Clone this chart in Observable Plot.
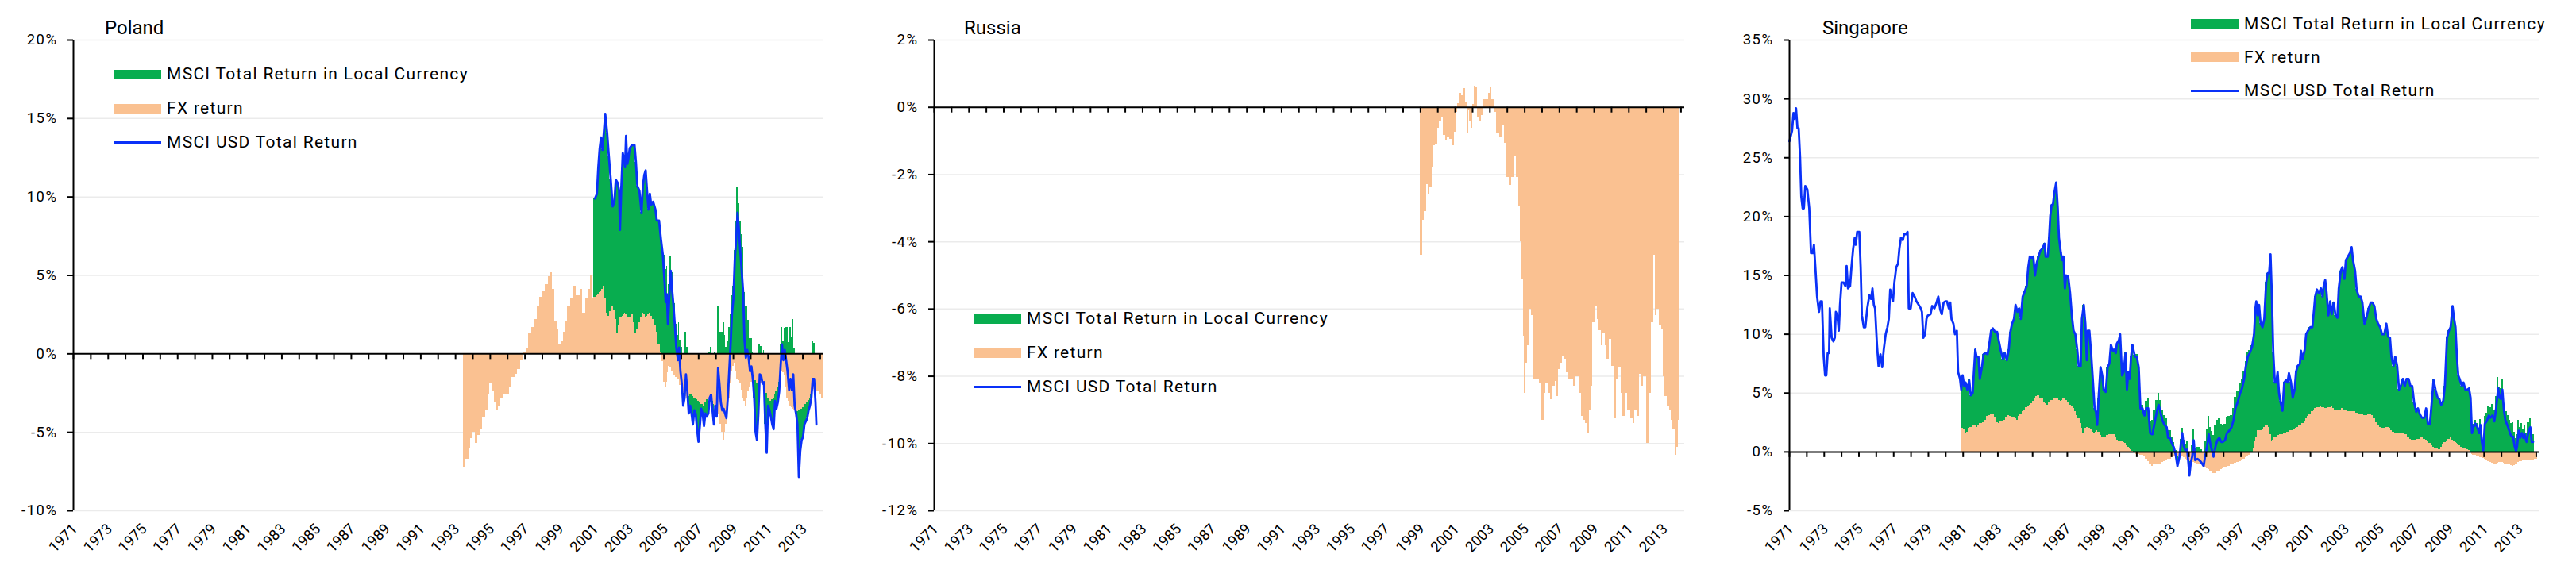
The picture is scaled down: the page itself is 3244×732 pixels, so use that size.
<!DOCTYPE html>
<html><head><meta charset="utf-8">
<script src="https://cdn.jsdelivr.net/npm/d3@7"></script>
<script src="https://cdn.jsdelivr.net/npm/@observablehq/plot@0.6"></script>
<style>
body{margin:0;background:#fff;}
#wrap{position:relative;width:3244px;height:732px;overflow:hidden;font-family:Roboto,"Liberation Sans",sans-serif;color:#000;}
.panel{position:absolute;top:0;height:732px;}
.title{position:absolute;top:23px;font-size:24px;line-height:1;white-space:nowrap;}
.legend{position:absolute;font-size:21px;letter-spacing:1.3px;}
.legend .row{display:flex;align-items:center;white-space:nowrap;}
.legend .row span{line-height:1;}
.sw{width:60px;height:12px;margin-right:7px;flex:none;}
.ln{width:60px;height:3px;margin-right:7px;flex:none;}
g[aria-label="y-axis tick label"] text{letter-spacing:1.5px;}
g[aria-label="year-label"] text{letter-spacing:0.5px;}
</style></head><body><div id="wrap"></div>
<script>
// ---------------- DATA (decimal years, values in %) ----------------
const FX = "FX return", LOCAL = "MSCI Total Return in Local Currency", USD = "MSCI USD Total Return";

// Poland
const plEarlyYears = [1993.52,1993.68,1993.84,1993.92,1994.00,1994.25,1994.33,1994.49,1994.65,1994.81,1994.89,1995.05,1995.21,1995.29,1995.37,1995.53,1995.69,1995.85,1996.01,1996.17,1996.33,1996.49,1996.65,1996.81,1997.02,1997.13,1997.29,1997.45,1997.61,1997.77,1997.93,1998.09,1998.25,1998.41,1998.53,1998.65,1998.78,1998.90,1999.01,1999.14,1999.26,1999.38,1999.54,1999.70,1999.86,2000.02,2000.18,2000.26,2000.39,2000.58,2000.71,2000.82,2000.90];
const plEarlyFX = [-7.2,-6.7,-6.0,-5.4,-5.0,-5.7,-5.2,-4.8,-4.1,-3.6,-2.6,-1.9,-2.4,-3.1,-3.6,-3.3,-2.8,-2.6,-2.6,-2.1,-1.5,-1.3,-1.0,-0.4,0.05,0.3,1.3,1.7,2.2,3.0,3.6,4.0,4.4,4.9,5.2,4.1,2.1,1.6,0.6,0.8,1.4,2.1,3.0,3.5,4.3,3.7,3.7,4.1,2.6,3.5,4.1,5.0,3.5];
const plYears = [2001.03,2001.14,2001.22,2001.30,2001.38,2001.46,2001.54,2001.62,2001.73,2001.83,
2001.94,2002.05,2002.15,2002.23,2002.34,2002.42,2002.47,2002.55,2002.63,2002.70,
2002.76,2002.82,2002.89,2002.95,2003.03,2003.15,2003.31,2003.39,2003.47,2003.59,
2003.71,2003.79,2003.87,2003.95,2004.03,2004.11,2004.19,2004.27,2004.38,2004.51,
2004.59,2004.72,2004.83,2004.94,2005.04,2005.10,2005.17,2005.23,2005.31,2005.39,
2005.47,2005.55,2005.63,2005.71,2005.81,2005.87,2005.95,2006.03,2006.11,2006.19,
2006.27,2006.35,2006.43,2006.51,2006.59,2006.67,2006.75,2006.83,2006.91,2006.99,
2007.07,2007.15,2007.23,2007.31,2007.39,2007.47,2007.56,2007.64,2007.72,2007.80,
2007.88,2007.96,2008.04,2008.12,2008.20,2008.28,2008.36,2008.44,2008.52,2008.60,
2008.68,2008.76,2008.84,2008.92,2009.00,2009.08,2009.16,2009.24,2009.32,2009.40,
2009.48,2009.56,2009.64,2009.72,2009.80,2009.88,2009.96,2010.04,2010.12,2010.20,
2010.28,2010.36,2010.44,2010.52,2010.60,2010.68,2010.76,2010.84,2010.92,2011.00,
2011.08,2011.16,2011.24,2011.32,2011.40,2011.48,2011.56,2011.64,2011.72,2011.80,
2011.88,2011.96,2012.04,2012.12,2012.21,2012.29,2012.37,2012.45,2012.53,2012.61,
2012.69,2012.77,2012.85,2012.93,2013.01,2013.09,2013.17,2013.25,2013.33,2013.41,
2013.49,2013.57,2013.65,2013.73,2013.78,2013.86,2014.02,2014.13];
const plFX = [3.6,3.7,3.8,3.9,4.0,4.1,4.3,3.5,2.6,2.4,
2.7,3.0,2.8,2.2,1.3,1.8,2.3,2.3,2.4,2.5,
2.6,2.5,2.4,2.3,2.3,2.5,2.0,1.3,1.6,2.0,
2.3,2.6,2.5,2.3,2.4,2.5,2.6,2.4,2.2,1.8,
1.4,0.6,0.1,-0.5,-1.8,-2.1,-1.8,-1.2,-0.8,-0.9,
-1.1,-1.3,-1.4,-1.5,-1.6,-1.6,-2.0,-2.3,-2.5,-2.6,
-2.7,-2.8,-2.7,-2.6,-2.6,-2.7,-2.8,-2.8,-2.9,-3.0,
-3.1,-3.2,-3.2,-3.3,-3.1,-2.9,-2.8,-2.9,-3.0,-3.0,
-3.2,-3.4,-3.6,-3.9,-4.2,-4.5,-5.0,-5.5,-5.0,-4.5,
-3.6,-2.8,-1.9,-1.1,-0.8,-0.6,-1.1,-1.6,-1.7,-1.9,
-2.3,-2.8,-3.0,-3.3,-2.8,-2.4,-2.1,-1.8,-1.7,-1.6,
-1.7,-1.9,-1.9,-1.9,-1.85,-1.8,-2.0,-2.3,-2.5,-2.8,
-2.9,-3.0,-2.9,-2.8,-2.6,-2.4,-2.1,-1.8,-1.4,-1.1,
-1.2,-1.4,-2.1,-2.8,-3.0,-3.3,-3.4,-3.5,-3.6,-3.8,
-3.7,-3.6,-3.55,-3.5,-3.4,-3.3,-3.2,-3.1,-2.95,-2.8,
-2.6,-2.4,-2.25,-2.1,-2.2,-2.4,-2.6,-2.8];
const plLocal = [6.3,6.5,8.1,9.2,9.8,8.9,9.8,11.8,11.5,10.2,
8.4,6.4,6.9,8.9,9.6,8.6,5.6,8.4,10.4,9.9,
9.3,11.4,9.7,10.1,10.8,10.8,11.3,10.9,9.1,8.4,
6.7,8.1,8.9,9.4,8.0,6.7,7.6,7.1,7.5,7.4,
7.1,7.9,7.2,6.8,6.3,5.4,5.6,3.1,4.4,6.2,
5.2,4.4,3.2,1.9,1.2,2.0,0.9,0.4,-0.8,-0.2,
1.4,0.4,-1.1,-0.7,-1.2,-1.8,-0.8,-1.0,-1.9,-2.6,
-1.5,-0.3,-0.6,-1.3,-0.7,-1.1,-1.0,0.1,0.4,-0.6,
-1.3,0.1,-0.4,3.0,2.3,1.4,1.4,2.0,1.2,0.4,
0.8,1.7,2.5,3.7,4.3,6.6,8.4,10.6,9.6,8.4,
7.6,6.8,3.9,3.05,3.05,2.15,1.0,1.0,0.1,-1.2,
-3.3,-3.6,-1.9,0.6,0.45,-0.1,0.2,-2.2,-3.8,-0.5,
-0.7,-1.0,-1.6,-2.0,-0.4,-1.1,-1.0,-0.6,0.6,1.7,
0.8,1.65,1.7,1.7,0.7,1.7,1.1,2.2,0.3,0.0,
-0.8,-4.25,-2.65,-2.0,-1.9,-1.2,-1.1,-1.0,-0.65,-0.5,
-0.2,0.8,0.65,-1.0,-2.3,null,null,null];
const plUSD = [9.9,10.2,11.9,13.1,13.8,13.0,14.1,15.3,14.1,12.6,
11.1,9.4,9.7,11.1,10.9,10.4,7.9,10.7,12.8,12.4,
11.9,13.9,12.1,12.4,13.1,13.3,13.3,12.2,10.7,10.4,
9.0,10.7,11.4,11.7,10.4,9.2,10.2,9.5,9.7,9.2,
8.5,8.5,7.3,6.3,4.5,3.3,3.8,1.9,3.6,5.3,
4.1,3.1,1.8,0.4,-0.4,0.4,-1.1,-1.9,-3.3,-2.8,
-1.3,-2.4,-3.8,-3.3,-3.8,-4.5,-3.6,-3.8,-4.8,-5.6,
-4.6,-3.5,-3.8,-4.6,-3.8,-4.0,-3.8,-2.8,-2.6,-3.6,
-4.5,-3.3,-4.0,-0.9,-1.9,-3.1,-3.6,-3.5,-3.8,-4.1,
-2.8,-1.1,0.6,2.6,3.5,6.0,7.3,9.0,7.9,6.5,
5.3,4.0,0.9,-0.25,0.25,-0.25,-1.1,-0.8,-1.6,-2.8,
-5.0,-5.5,-3.8,-1.3,-1.4,-1.9,-1.8,-4.5,-6.3,-3.3,
-3.6,-4.0,-4.5,-4.8,-3.0,-3.5,-3.1,-2.4,-0.8,0.6,
-0.4,0.25,-0.4,-1.1,-2.3,-1.6,-2.3,-1.3,-3.3,-3.8,
-4.5,-7.85,-6.2,-5.5,-5.3,-4.5,-4.3,-4.1,-3.6,-3.3,
-2.8,-1.6,-1.6,-3.1,-4.5,null,null,null];

// Russia
const ruYears = [1999.05,1999.20,1999.27,1999.40,1999.50,1999.61,1999.70,1999.81,1999.91,2000.04,
2000.16,2000.27,2000.37,2000.49,2000.62,2000.72,2000.88,2000.98,2001.07,2001.18,
2001.29,2001.41,2001.53,2001.64,2001.71,2001.79,2001.87,2001.94,2002.02,2002.13,
2002.25,2002.32,2002.43,2002.55,2002.70,2002.86,2002.96,2003.05,2003.16,2003.31,
2003.47,2003.62,2003.77,2003.92,2004.03,2004.15,2004.30,2004.46,2004.58,2004.69,
2004.79,2004.88,2004.95,2005.04,2005.10,2005.22,2005.30,2005.45,2005.60,2005.75,
2005.91,2006.06,2006.16,2006.29,2006.41,2006.53,2006.67,2006.82,2006.90,2007.02,
2007.13,2007.23,2007.35,2007.48,2007.58,2007.73,2007.89,2008.04,2008.19,2008.30,
2008.42,2008.54,2008.65,2008.76,2008.88,2008.97,2009.11,2009.21,2009.34,2009.46,
2009.56,2009.67,2009.79,2009.95,2010.10,2010.22,2010.33,2010.48,2010.59,2010.71,
2010.86,2011.01,2011.16,2011.29,2011.39,2011.55,2011.65,2011.77,2011.93,2012.08,
2012.20,2012.35,2012.46,2012.57,2012.69,2012.81,2012.92,2012.99,2013.12,2013.27,
2013.37,2013.48,2013.60,2013.68,2013.79,2013.86];
const ruFX = [-4.4,-3.35,-3.1,-2.3,-2.6,-2.4,-1.8,-1.15,-1.1,-0.63,
-0.4,-0.3,-0.83,-1.0,-0.9,-0.95,-1.15,-0.75,-0.15,0.12,
0.43,0.35,0.55,0.16,-0.79,-0.1,-0.43,-0.63,0.08,0.63,
0.6,-0.3,-0.43,-0.24,0.24,0.24,0.43,0.6,0.24,-0.16,
-0.79,-0.87,-0.55,-1.06,-2.09,-2.32,-2.09,-1.46,-2.09,-2.95,
-4.0,-5.1,-6.8,-8.5,-7.6,-7.1,-6.0,-6.2,-8.1,-8.1,
-8.2,-9.3,-8.5,-8.2,-8.5,-8.7,-8.3,-8.15,-8.6,-7.8,
-7.6,-7.4,-7.5,-7.9,-8.1,-8.1,-8.3,-8.0,-8.5,-9.2,
-9.3,-9.4,-9.7,-9.0,-8.3,-6.4,-5.9,-6.3,-6.65,-7.1,
-6.7,-7.1,-7.5,-6.9,-7.7,-9.25,-8.1,-7.75,-8.5,-9.2,
-8.5,-9.0,-9.25,-9.4,-9.0,-9.2,-7.95,-8.3,-8.0,-10.0,
-8.5,-6.4,-4.4,-6.2,-6.0,-6.5,-6.6,-8.0,-8.6,-8.9,
-9.0,-9.3,-9.6,-10.35,-10.1,-9.3];

// Singapore
const sgEarlyYears = [1971.00,1971.15,1971.23,1971.30,1971.38,1971.46,1971.53,1971.61,1971.68,1971.76,
1971.83,1971.91,1972.03,1972.14,1972.24,1972.34,1972.41,1972.49,1972.59,1972.70,
1972.79,1972.87,1972.97,1973.05,1973.12,1973.20,1973.28,1973.32,1973.43,1973.53,
1973.61,1973.67,1973.76,1973.84,1973.91,1974.00,1974.11,1974.22,1974.29,1974.37,
1974.49,1974.57,1974.67,1974.76,1974.82,1974.90,1975.02,1975.10,1975.17,1975.28,
1975.37,1975.48,1975.60,1975.70,1975.78,1975.86,1975.93,1976.04,1976.13,1976.24,
1976.34,1976.43,1976.54,1976.64,1976.72,1976.80,1976.87,1976.96,1977.04,1977.15,
1977.25,1977.33,1977.42,1977.53,1977.60,1977.71,1977.80,1977.87,1977.98,1978.09,
1978.21,1978.31,1978.44,1978.56,1978.63,1978.71,1978.81,1978.89,1978.97,1979.12,
1979.22,1979.35,1979.47,1979.57,1979.68,1979.77,1979.88,1979.98,1980.07,1980.18,
1980.26,1980.33,1980.44,1980.53,1980.64,1980.71,1980.82,1980.89];
const sgEarlyUSD = [26.4,27.3,28.8,28.3,29.2,27.5,27.5,25.1,21.7,20.7,
20.7,22.6,22.3,20.7,16.9,16.9,17.6,15.7,13.2,11.9,
12.8,12.8,8.1,6.5,6.5,8.4,8.4,12.2,9.7,9.4,
9.7,11.9,11.6,10.3,12.5,14.4,14.4,14.1,15.8,13.9,
14.1,15.7,17.3,18.2,17.6,18.7,18.7,15.7,11.6,10.6,
10.6,12.2,13.3,13.0,13.9,12.5,12.2,9.1,7.3,8.3,
7.2,8.7,10.0,10.6,11.3,13.8,13.3,12.8,14.4,15.7,
16.0,17.3,18.2,18.0,18.5,18.5,18.7,12.2,12.2,13.5,
13.2,12.8,12.5,12.2,11.9,9.7,10.0,11.3,11.6,11.7,
12.4,12.2,12.7,13.2,12.1,11.7,12.7,12.8,12.8,12.2,
12.7,11.3,10.9,10.0,10.3,6.8,6.2,5.3];
const sgYears = [1980.97,1981.06,1981.14,1981.24,1981.35,1981.44,1981.55,1981.62,1981.70,1981.77,
1981.88,1981.96,1982.08,1982.18,1982.31,1982.41,1982.50,1982.61,1982.71,1982.84,
1982.96,1983.06,1983.17,1983.29,1983.40,1983.52,1983.63,1983.72,1983.82,1983.93,
1984.02,1984.13,1984.23,1984.32,1984.43,1984.54,1984.66,1984.75,1984.84,1984.93,
1985.04,1985.14,1985.23,1985.34,1985.45,1985.57,1985.69,1985.75,1985.87,1985.95,
1986.02,1986.10,1986.17,1986.25,1986.36,1986.45,1986.52,1986.63,1986.71,1986.78,
1986.86,1986.93,1987.05,1987.16,1987.26,1987.36,1987.46,1987.57,1987.66,1987.77,
1987.84,1987.95,1988.04,1988.12,1988.18,1988.27,1988.37,1988.48,1988.57,1988.65,
1988.72,1988.80,1988.91,1989.01,1989.09,1989.21,1989.32,1989.42,1989.51,1989.62,
1989.69,1989.79,1989.85,1989.97,1990.04,1990.15,1990.24,1990.35,1990.43,1990.51,
1990.59,1990.67,1990.75,1990.89,1991.00,1991.11,1991.21,1991.33,1991.44,1991.54,
1991.66,1991.77,1991.90,1992.02,1992.15,1992.26,1992.36,1992.47,1992.59,1992.72,
1992.80,1992.92,1993.02,1993.13,1993.24,1993.34,1993.46,1993.54,1993.62,1993.70,
1993.82,1993.90,1993.97,1994.03,1994.11,1994.19,1994.28,1994.36,1994.49,1994.60,
1994.72,1994.85,1994.93,1995.05,1995.14,1995.26,1995.34,1995.42,1995.54,1995.64,
1995.75,1995.87,1995.96,1996.08,1996.19,1996.32,1996.46,1996.57,1996.68,1996.82,
1996.95,1997.06,1997.18,1997.27,1997.39,1997.50,1997.63,1997.75,1997.83,1997.88,
1997.96,1998.04,1998.13,1998.24,1998.34,1998.45,1998.54,1998.62,1998.70,1998.78,
1998.86,1998.95,1999.03,1999.11,1999.19,1999.27,1999.39,1999.49,1999.60,1999.68,
1999.76,1999.88,1999.98,2000.09,2000.17,2000.26,2000.39,2000.45,2000.55,2000.67,
2000.75,2000.86,2000.99,2001.11,2001.21,2001.27,2001.37,2001.48,2001.60,2001.70,
2001.76,2001.85,2001.93,2002.03,2002.14,2002.22,2002.34,2002.44,2002.55,2002.63,
2002.75,2002.84,2002.96,2003.04,2003.16,2003.27,2003.37,2003.45,2003.57,2003.66,
2003.78,2003.89,2003.99,2004.11,2004.22,2004.35,2004.47,2004.57,2004.68,2004.79,
2004.89,2005.01,2005.12,2005.25,2005.37,2005.47,2005.58,2005.66,2005.78,2005.88,
2005.99,2006.10,2006.20,2006.32,2006.43,2006.53,2006.65,2006.76,2006.86,2006.97,
2007.09,2007.19,2007.30,2007.42,2007.55,2007.66,2007.76,2007.88,2007.99,2008.09,
2008.20,2008.32,2008.42,2008.53,2008.64,2008.74,2008.86,2008.97,2009.07,2009.18,
2009.27,2009.35,2009.43,2009.51,2009.59,2009.71,2009.81,2009.92,2010.04,2010.13,
2010.22,2010.30,2010.38,2010.49,2010.61,2010.71,2010.79,2010.87,2010.95,2011.04,
2011.15,2011.27,2011.36,2011.48,2011.59,2011.69,2011.81,2011.89,2011.97,2012.05,
2012.13,2012.22,2012.30,2012.38,2012.49,2012.58,2012.67,2012.75,2012.84,2012.90,
2012.99,2013.08,2013.17,2013.25,2013.33,2013.44,2013.56,2013.66,2013.74,2013.82,
2013.92,2014.02];
const sgUSD = [6.5,5.6,5.9,5.3,6.1,4.8,5.0,6.8,8.7,8.1,
8.1,6.2,7.2,8.3,8.4,8.3,9.1,10.3,10.5,10.2,
10.2,9.4,8.6,7.9,8.4,7.8,8.7,10.2,10.9,11.3,
12.5,11.9,12.2,11.3,13.2,13.6,14.1,15.7,16.6,16.5,
16.6,15.0,16.0,16.6,17.1,17.3,17.7,16.6,16.6,18.2,
20.1,21.0,21.0,22.0,22.9,20.7,18.2,16.9,16.3,16.6,
13.9,15.0,14.9,13.5,11.6,10.3,10.0,8.7,7.3,7.3,
11.3,12.5,10.9,7.8,10.3,10.3,8.4,5.9,3.7,3.4,
2.3,4.6,7.2,6.5,5.3,5.1,7.2,7.5,9.1,8.6,
8.7,8.4,9.2,9.5,10.0,6.5,6.8,8.4,5.3,6.8,
6.2,8.1,9.1,8.1,8.1,7.2,3.7,3.7,3.1,3.7,
3.7,1.6,1.5,2.4,3.4,4.0,3.4,2.7,2.3,2.1,
1.2,1.2,0.7,0.4,-0.25,-1.2,-0.4,0.7,1.6,0.5,
0.06,0.2,-0.9,-2.0,-0.9,-0.4,1.0,-0.7,-0.6,-0.7,
-0.9,-1.2,-0.4,0.5,1.5,0.5,0.06,-0.4,0.5,1.0,
1.2,0.85,0.85,1.0,1.6,1.8,2.1,2.7,3.7,4.3,
5.0,5.4,6.2,7.2,8.1,8.4,8.9,10.0,12.2,12.8,
11.6,12.5,10.9,10.6,11.3,14.4,15.2,15.2,16.8,13.2,
8.4,5.9,5.9,6.8,5.0,4.3,3.5,5.9,6.1,5.9,
6.7,5.9,4.6,5.3,6.8,7.3,7.5,8.6,7.9,8.7,
10.0,10.3,10.6,10.6,12.2,13.2,13.8,13.5,13.9,13.2,
14.1,14.6,13.5,11.6,12.8,11.7,12.7,11.6,11.4,13.9,
15.4,15.7,14.7,16.3,16.6,16.9,17.4,16.3,15.4,13.8,
13.2,13.2,12.7,10.9,11.4,12.2,12.7,12.7,12.4,11.3,
10.9,10.6,10.0,10.0,10.9,9.8,9.7,8.1,7.3,8.1,
7.3,5.3,5.6,6.2,5.6,6.2,6.2,5.6,5.6,4.2,
3.4,3.7,3.2,2.9,2.9,3.7,2.4,2.4,4.3,6.1,
5.3,4.6,4.5,4.0,4.3,5.6,9.7,10.3,10.6,12.4,
11.3,10.6,8.1,6.5,6.2,5.6,5.9,5.3,5.3,5.4,
4.6,1.6,2.1,2.4,2.1,1.6,2.3,0.85,0.06,2.4,
2.6,3.1,2.9,3.1,2.6,3.7,5.4,4.6,4.5,5.3,
3.7,2.7,2.4,2.1,1.6,1.3,1.3,0.5,0.06,0.5,
1.8,1.2,1.6,1.2,1.5,0.85,1.8,2.1,0.85,0.85,
null,null];
const sgFX = [2.0,1.9,1.6,1.7,2.0,2.1,2.3,2.2,2.2,2.1,
2.2,2.4,2.4,2.5,2.7,3.0,3.1,3.2,3.2,2.9,
2.5,2.4,2.6,2.6,2.7,2.9,3.1,3.0,2.9,2.9,
2.8,2.7,3.0,3.2,3.4,3.6,3.8,3.9,4.0,4.1,
4.3,4.6,4.7,4.8,4.6,4.5,4.2,4.1,4.0,4.2,
4.3,4.4,4.4,4.5,4.6,4.5,4.4,4.3,4.4,4.5,
4.5,4.4,4.2,4.0,3.9,3.7,3.4,3.1,2.8,2.4,
2.0,1.6,2.0,2.1,2.1,2.0,1.9,1.7,1.6,1.7,
1.8,1.7,1.4,1.3,1.3,1.3,1.4,1.5,1.5,1.5,
1.5,1.2,1.0,0.85,0.85,0.85,0.8,0.7,0.5,0.4,
0.3,0.2,0.06,-0.1,-0.2,-0.2,-0.25,-0.3,-0.4,-0.6,
-0.8,-1.0,-1.2,-1.1,-1.0,-1.0,-1.0,-0.9,-0.8,-0.7,
-0.6,-0.6,-0.5,-0.4,-0.4,-0.4,-0.35,-0.35,-0.4,-0.5,
-0.6,-0.7,-0.7,-0.8,-0.85,-0.9,-0.9,-0.95,-1.0,-1.1,
-1.1,-1.2,-1.3,-1.4,-1.5,-1.6,-1.7,-1.8,-1.8,-1.7,
-1.6,-1.5,-1.4,-1.35,-1.3,-1.2,-1.0,-1.0,-0.95,-0.9,
-0.8,-0.7,-0.6,-0.5,-0.35,-0.25,-0.1,0.3,0.9,1.2,
1.8,1.8,1.8,1.9,2.1,2.3,2.2,2.1,1.5,0.85,
1.0,1.2,1.3,1.4,1.4,1.5,1.5,1.55,1.6,1.65,
1.7,1.8,1.8,1.9,2.0,2.1,2.2,2.3,2.4,2.6,
2.8,3.0,3.2,3.4,3.6,3.7,3.8,3.8,3.85,3.8,
3.75,3.7,3.7,3.75,3.8,3.85,3.7,3.6,3.5,3.55,
3.6,3.7,3.6,3.5,3.4,3.4,3.4,3.4,3.4,3.3,
3.25,3.2,3.15,3.1,3.1,3.15,3.2,3.1,2.8,2.5,
2.3,2.1,2.0,2.0,2.05,2.1,2.0,1.8,1.7,1.6,
1.6,1.6,1.6,1.55,1.5,1.45,1.3,1.1,1.0,1.0,
1.0,1.05,1.1,1.2,1.1,1.0,0.85,0.7,0.5,0.4,
0.35,0.3,0.2,0.4,0.6,0.8,0.95,1.1,1.2,1.0,
0.9,0.8,0.7,0.6,0.5,0.4,0.35,0.3,0.2,0.1,
0.0,-0.2,-0.25,-0.3,-0.35,-0.4,-0.45,-0.5,-0.55,-0.6,
-0.7,-0.8,-0.9,-0.95,-1.0,-1.0,-0.95,-0.9,-0.9,-0.9,
-0.95,-1.0,-1.0,-1.0,-1.1,-1.15,-1.2,-1.15,-1.1,-1.0,
-0.9,-0.85,-0.8,-0.75,-0.7,-0.7,-0.7,-0.7,-0.7,-0.65,
-0.6,-0.6];
const sgLocal = [4.5,3.7,4.3,3.6,4.1,2.7,2.7,4.6,6.5,6.0,
5.9,3.8,4.8,5.8,5.7,5.3,6.0,7.1,7.3,7.3,
7.7,7.0,6.0,5.3,5.7,4.9,5.6,7.2,8.0,8.4,
9.7,9.2,9.2,8.1,9.8,10.0,10.3,11.8,12.6,12.4,
12.3,10.4,11.3,11.8,12.5,12.8,13.5,12.5,12.6,14.0,
15.8,16.6,16.6,17.5,18.3,16.2,13.8,12.6,11.9,12.1,
9.4,10.6,10.7,9.5,7.7,6.6,6.6,5.6,4.5,4.9,
9.3,10.9,8.9,5.7,8.2,8.3,6.5,4.2,2.1,1.7,
0.5,2.9,5.8,5.2,4.0,3.8,5.8,6.0,7.6,7.1,
7.2,7.2,8.2,8.65,9.15,5.65,6.0,7.7,4.8,6.4,
5.9,7.9,9.0,8.2,8.3,7.4,3.95,4.0,3.5,4.3,
4.5,2.6,2.7,3.5,4.4,5.0,4.4,3.6,3.1,2.8,
1.8,1.8,1.2,0.8,0.15,-0.8,-0.05,1.05,2.0,1.0,
0.66,0.9,-0.2,-1.2,-0.05,0.5,1.9,0.25,0.4,0.4,
0.2,0.0,0.9,1.9,3.0,2.1,1.76,1.4,2.3,2.7,
2.8,2.35,2.25,2.35,2.9,3.0,3.1,3.7,4.65,5.2,
5.8,6.1,6.8,7.7,8.45,8.65,9.0,9.7,11.3,11.6,
9.8,10.7,9.1,8.7,9.2,12.1,13.0,13.1,15.3,12.35,
7.4,4.7,4.6,5.4,3.6,2.8,2.0,4.35,4.5,4.25,
5.0,4.1,2.8,3.4,4.8,5.2,5.3,6.3,5.5,6.1,
7.2,7.3,7.4,7.2,8.6,9.5,10.0,9.7,10.05,9.4,
10.35,10.9,9.8,7.85,9.0,7.85,9.0,8.0,7.9,10.35,
11.8,12.0,11.1,12.8,13.2,13.5,14.0,12.9,12.0,10.5,
9.95,10.0,9.55,7.8,8.3,9.05,9.5,9.6,9.6,8.8,
8.6,8.5,8.0,8.0,8.85,7.7,7.7,6.3,5.6,6.5,
5.7,3.7,4.0,4.65,4.1,4.75,4.9,4.5,4.6,3.2,
2.4,2.65,2.1,1.7,1.8,2.7,1.55,1.7,3.8,5.7,
4.95,4.3,4.3,3.6,3.7,4.8,8.75,9.2,9.4,11.4,
10.4,9.8,7.4,5.9,5.7,5.2,5.55,5.0,5.1,5.3,
4.6,1.8,2.35,2.7,2.45,2.0,2.75,1.35,0.61,3.0,
3.3,3.9,3.8,4.05,3.6,4.7,6.35,5.5,5.4,6.2,
4.65,3.7,3.4,3.1,2.7,2.45,2.5,1.65,1.16,1.5,
2.7,2.05,2.4,1.95,2.2,1.55,2.5,2.8,1.55,1.5,
null,null];

// axes
const plTicks = [-10,-5,0,5,10,15,20];
const ruTicks = [-12,-10,-8,-6,-4,-2,0,2];
const sgTicks = [-5,0,5,10,15,20,25,30,35];
const tickYears = d3.range(1971, 2015);
const labelYears = d3.range(1971, 2014, 2);

// ---------------- helpers ----------------
const ORANGE = "#FAC191", GREEN = "#08AD4F", BLUE = "#0A31F8";
const FONT = "Roboto, 'Liberation Sans', sans-serif";
function toDate(y) {
  const Y = Math.floor(y), s = Date.UTC(Y, 0, 1), e = Date.UTC(Y + 1, 0, 1);
  return new Date(s + (y - Y) * (e - s));
}
const X_DOMAIN = [toDate(1971), toDate(2014.21)];

function barRows(years, series) {
  const n = years.length, rows = [];
  series.forEach(s => { if (s.values.length !== n) console.warn("length mismatch", s.name, s.values.length, n); });
  for (let i = 0; i < n; ++i) {
    const y = years[i];
    const prev = i > 0 ? years[i - 1] : y - (years[1] - years[0]);
    const next = i < n - 1 ? years[i + 1] : y + (y - years[i - 1]);
    const t1 = toDate((prev + y) / 2), t2 = toDate((y + next) / 2);
    for (const s of series) {
      const v = s.values[i];
      if (v != null) rows.push({t1, t2, v, s: s.name});
    }
  }
  return rows;
}
function lineRows(years, values) {
  if (years.length !== values.length) console.warn("line length mismatch", years.length, values.length);
  return years.map((y, i) => ({t: toDate(y), v: values[i]})).filter(d => d.v != null);
}

function panel({left, width, marginLeft, marginRight, yDomain, yTicks, bars, line}) {
  const marks = [
    Plot.ruleY(yTicks, {stroke: "#ebebeb", strokeWidth: 1.5}),
    Plot.rectY(bars, {x1: "t1", x2: "t2", y: "v", fill: "s", order: [FX, LOCAL], shapeRendering: "crispEdges"}),
  ];
  if (line && line.length) marks.push(Plot.line(line, {x: "t", y: "v", stroke: BLUE, strokeWidth: 2.8}));
  marks.push(
    Plot.ruleY([0], {stroke: "black", strokeWidth: 2}),
    Plot.ruleX(tickYears.map(y => toDate(y)), {y1: 0, y2: 0, insetBottom: -7, stroke: "black", strokeWidth: 2}),
    Plot.ruleX([X_DOMAIN[0]], {stroke: "black", strokeWidth: 2}),
    Plot.axisY(yTicks, {tickSize: 7, tickPadding: 13, tickFormat: d => `${d}%`, fontSize: 18.5, strokeWidth: 2, label: null}),
    Plot.text(labelYears.map(y => toDate(y)), {x: d => d, y: yDomain[0], text: d => String(d.getUTCFullYear()),
      rotate: -45, textAnchor: "end", lineAnchor: "bottom", dx: 6, dy: 24, fontSize: 18.5, fill: "black", ariaLabel: "year-label"})
  );
  const svg = Plot.plot({
    width, height: 732, marginLeft, marginRight, marginTop: 50, marginBottom: 89,
    x: {type: "utc", domain: X_DOMAIN, axis: null},
    y: {domain: yDomain, axis: null, label: null},
    color: {domain: [FX, LOCAL], range: [ORANGE, GREEN]},
    style: {fontFamily: FONT, background: "transparent", color: "black", overflow: "visible"},
    marks
  });
  const div = document.createElement("div");
  div.className = "panel";
  div.style.left = left + "px";
  div.style.width = width + "px";
  div.appendChild(svg);
  return div;
}

function legend(left, top, rowH) {
  const el = document.createElement("div");
  el.className = "legend";
  el.style.left = left + "px"; el.style.top = top + "px";
  el.innerHTML = `
    <div class="row" style="height:${rowH}px"><div class="sw" style="background:${GREEN}"></div><span>${LOCAL}</span></div>
    <div class="row" style="height:${rowH}px"><div class="sw" style="background:${ORANGE}"></div><span>${FX}</span></div>
    <div class="row" style="height:${rowH}px"><div class="ln" style="background:${BLUE}"></div><span>${USD}</span></div>`;
  return el;
}
function title(text, left) {
  const el = document.createElement("div");
  el.className = "title"; el.style.left = left + "px"; el.textContent = text;
  return el;
}

// ---------------- build ----------------
const wrap = document.getElementById("wrap");

const plAllYears = [...plEarlyYears, ...plYears];
const plBars = barRows(plAllYears, [
  {name: FX, values: [...plEarlyFX, ...plFX]},
  {name: LOCAL, values: [...plEarlyYears.map(() => null), ...plLocal]}
]);
wrap.appendChild(panel({left: 0, width: 1081, marginLeft: 92, marginRight: 44, yDomain: [-10, 20], yTicks: plTicks,
  bars: plBars, line: lineRows(plYears, plUSD)}));

const ruBars = barRows(ruYears, [{name: FX, values: ruFX}]);
wrap.appendChild(panel({left: 1081, width: 1081, marginLeft: 95, marginRight: 41, yDomain: [-12, 2], yTicks: ruTicks,
  bars: ruBars, line: []}));

const sgBars = barRows(sgYears, [{name: FX, values: sgFX}, {name: LOCAL, values: sgLocal}]);
wrap.appendChild(panel({left: 2162, width: 1082, marginLeft: 91, marginRight: 46, yDomain: [-5, 35], yTicks: sgTicks,
  bars: sgBars, line: lineRows([...sgEarlyYears, ...sgYears], [...sgEarlyUSD, ...sgUSD])}));

wrap.appendChild(title("Poland", 132));
wrap.appendChild(title("Russia", 1214));
wrap.appendChild(title("Singapore", 2295));
wrap.appendChild(legend(143, 72, 43));
wrap.appendChild(legend(1226, 380, 43));
wrap.appendChild(legend(2759, 9, 42));
</script></body></html>
